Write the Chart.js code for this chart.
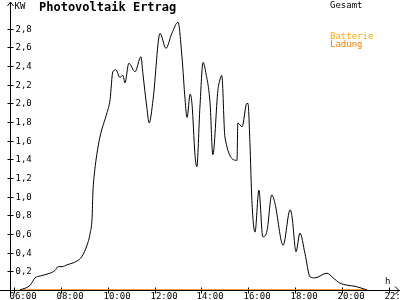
<!DOCTYPE html>
<html>
<head>
<meta charset="utf-8">
<script src="https://cdn.jsdelivr.net/npm/chart.js@4/dist/chart.umd.min.js"></script>
<style>
  html, body { margin:0; padding:0; background:#fff; }
  #wrap { width:400px; height:300px; }
</style>
</head>
<body>
<div id="wrap"><canvas id="pvChart" width="400" height="300"></canvas></div>
<script>
// Photovoltaik Ertrag - Tagesverlauf (kW)
const times = ['06:15','06:41','06:54','07:07','07:32','07:45','07:53','08:03','08:16','08:41',
  '08:54','09:07','09:15','09:20','09:22','09:27','09:32','09:40','09:58','10:06',
  '10:13','10:21','10:31','10:39','10:44','10:54','11:10','11:25','11:30','11:40',
  '11:46','11:56','12:14','12:29','12:44','13:00','13:10','13:18','13:23','13:31',
  '13:36','13:43','13:48','13:56','14:04','14:11','14:22','14:29','14:42','14:47',
  '14:52','15:00','15:31','15:33','15:44','15:56','15:59','16:04','16:09','16:17',
  '16:27','16:37','16:48','17:00','17:08','17:29','17:47','17:52','18:02','18:12',
  '18:25','18:38','18:50','19:21','19:37','19:54','20:15','20:33','21:04'];
const pvValues = [0,0.05,0.13,0.15,0.18,0.21,0.25,0.25,0.27,0.31,
  0.36,0.48,0.61,0.78,1.04,1.29,1.45,1.64,1.90,2.04,
  2.34,2.36,2.28,2.30,2.22,2.43,2.34,2.50,2.32,1.96,
  1.79,2.04,2.75,2.59,2.75,2.87,2.50,2.04,1.85,2.10,
  1.98,1.47,1.32,1.96,2.44,2.33,2.00,1.45,2.14,2.25,
  2.30,1.64,1.39,1.79,1.75,2.00,2.00,1.58,0.96,0.62,
  1.07,0.57,0.64,1.02,0.93,0.48,0.86,0.78,0.41,0.61,
  0.39,0.14,0.13,0.18,0.13,0.075,0.05,0.04,0];
const battTimes = ['06:15','21:04'];
const battValues = [0,0];
const xTicks = ['06:00','08:00','10:00','12:00','14:00','16:00','18:00','20:00','22:00'];
const yTicks = [0.2,0.4,0.6,0.8,1.0,1.2,1.4,1.6,1.8,2.0,2.2,2.4,2.6,2.8];

const toHours = t => { const [h,m] = t.split(':').map(Number); return h + m/60; };
const toPoints = (ts, vs) => ts.map((t,i) => ({ x: toHours(t), y: vs[i] }));

const FONT = '"DejaVu Sans Mono", "Liberation Mono", monospace';

// axes with arrows, ticks and labels drawn from the chart's scales
const axesPlugin = {
  id: 'axes',
  beforeDatasetsDraw(chart) {
    const { ctx, chartArea: a, scales: { x, y } } = chart;
    const x0 = Math.round(a.left) + 0.5, y0 = Math.round(y.getPixelForValue(0)) + 0.5;
    ctx.save();
    ctx.strokeStyle = '#000'; ctx.lineWidth = 1;
    ctx.beginPath();
    ctx.moveTo(x0, a.top); ctx.lineTo(x0, y0 + 6);
    ctx.moveTo(x0 - 3, a.top + 4); ctx.lineTo(x0, a.top); ctx.lineTo(x0 + 3, a.top + 4);
    ctx.moveTo(0, y0); ctx.lineTo(a.right, y0);
    ctx.moveTo(a.right - 5, y0 - 4); ctx.lineTo(a.right - 1, y0); ctx.lineTo(a.right - 5, y0 + 4);
    ctx.stroke();

    ctx.fillStyle = '#000';
    ctx.font = '9px ' + FONT;
    ctx.textBaseline = 'middle'; ctx.textAlign = 'left';
    yTicks.forEach(v => {
      const py = Math.round(y.getPixelForValue(v)) + 0.5;
      ctx.beginPath(); ctx.moveTo(x0 - 3, py); ctx.lineTo(x0 + 3, py); ctx.stroke();
      ctx.fillText(v.toFixed(1).replace('.', ','), x0 + 5, py);
    });
    ctx.textBaseline = 'top';
    xTicks.forEach(t => {
      const px = Math.round(x.getPixelForValue(toHours(t))) + 0.5;
      ctx.beginPath(); ctx.moveTo(px, y0 - 3); ctx.lineTo(px, y0 + 3); ctx.stroke();
      ctx.fillText(t, px - 5, y0 + 2);
    });

    ctx.fillText('KW', x0 + 4, 2);
    ctx.fillText('h', 385, 277);
    ctx.fillText('Gesamt', 330, 1);
    ctx.fillStyle = '#ffaa00'; ctx.fillText('Batterie', 330, 32);
    ctx.fillStyle = '#ff8000'; ctx.fillText('Ladung', 330, 40);

    ctx.fillStyle = '#000';
    ctx.font = 'bold 12px ' + FONT;
    ctx.fillText('Photovoltaik Ertrag', 39, 2);
    ctx.restore();
  }
};

new Chart(document.getElementById('pvChart'), {
  type: 'line',
  data: {
    datasets: [
      { label: 'Gesamt', data: toPoints(times, pvValues), borderColor: '#000',
        borderWidth: 1, pointRadius: 0, cubicInterpolationMode: 'monotone', fill: false },
      { label: 'Batterie Ladung', data: toPoints(battTimes, battValues), borderColor: '#ff8000',
        borderWidth: 1.5, pointRadius: 0, fill: false }
    ]
  },
  options: {
    responsive: false, animation: false, devicePixelRatio: 1,
    layout: { padding: { left: 10, right: 0, top: 2, bottom: 10 } },
    plugins: { legend: { display: false }, tooltip: { enabled: false } },
    scales: {
      x: { type: 'linear', display: false, min: 5.83, max: 22.47 },
      y: { display: false, min: 0, max: 3.087 }
    }
  },
  plugins: [axesPlugin]
});
</script>
</body>
</html>
